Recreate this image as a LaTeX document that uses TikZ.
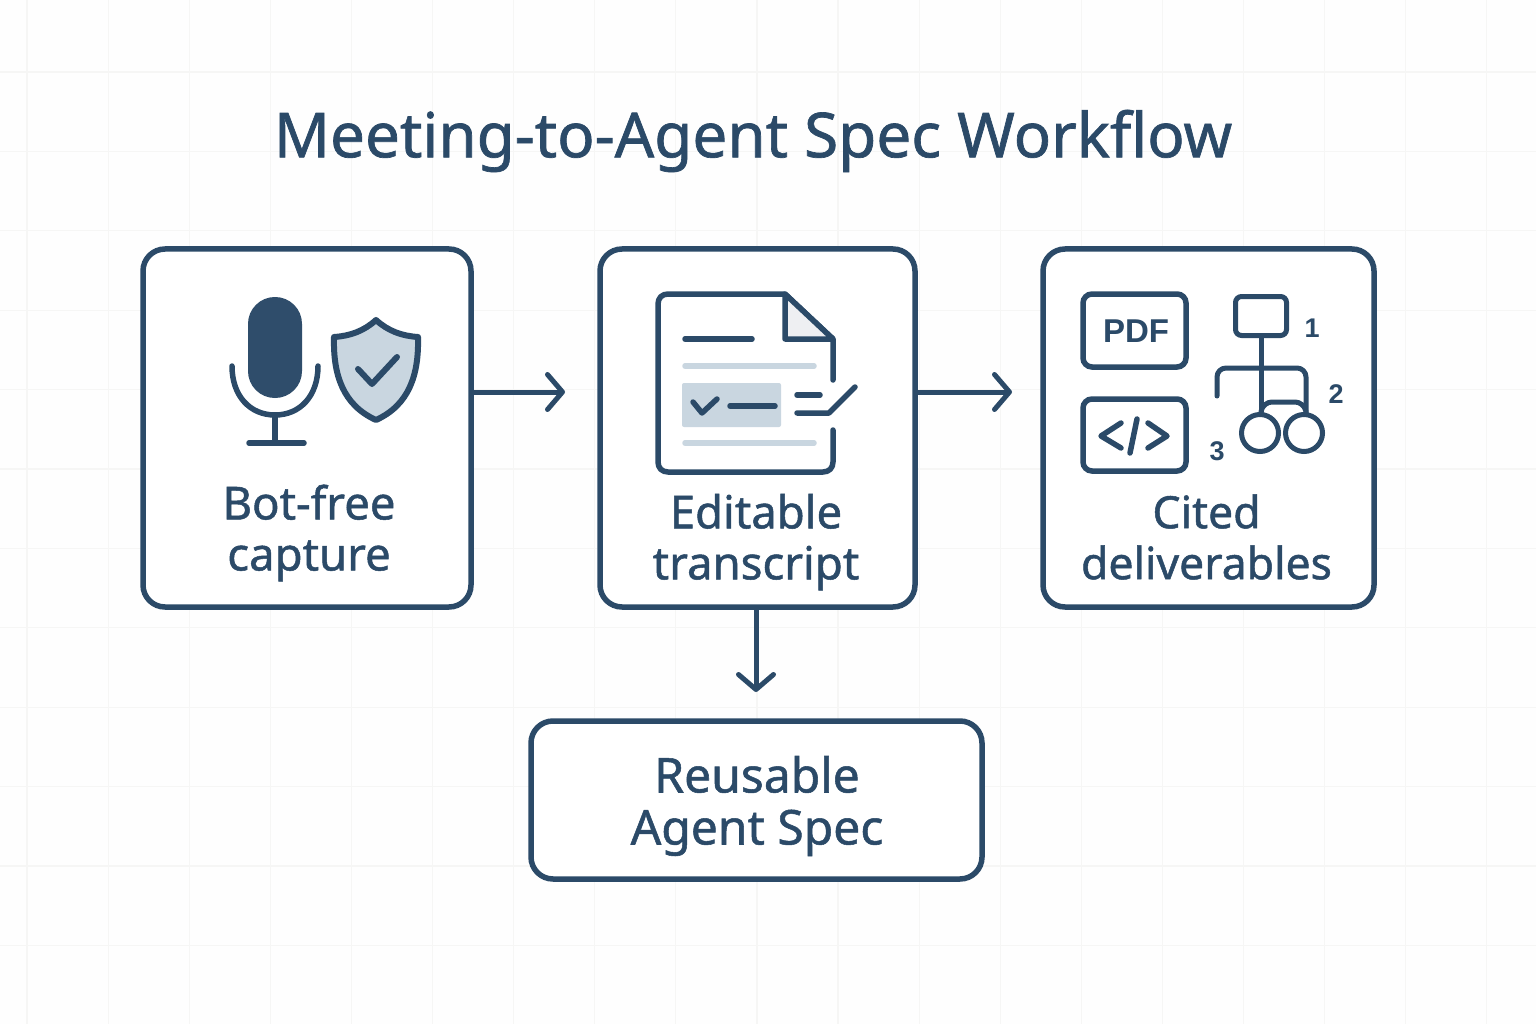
\documentclass[tikz,border=0pt]{standalone}
\usepackage{fontspec}
\setmainfont{Noto Sans}
\newfontfamily\medfont[FakeBold=1.1]{Noto Sans}
\newfontfamily\heavyfont{Liberation Sans}
\usetikzlibrary{arrows.meta}
\definecolor{ink}{HTML}{2B4A68}
\definecolor{inkfill}{HTML}{2F4D6B}
\definecolor{pale}{HTML}{C9D6E0}
\definecolor{foldc}{HTML}{EEEFF2}
\definecolor{gridc}{HTML}{F6F6F5}
\definecolor{paper}{HTML}{FEFEFE}
\tikzset{
  box/.style={draw=ink,line width=5.5pt,rounded corners=22pt,fill=white,inner sep=0pt,outer sep=0pt},
  flow/.style={draw=ink,line width=5pt,-{Straight Barb[length=15pt,width=35pt,line width=5pt,round]}},
  ico/.style={draw=ink,line width=5.5pt,line cap=round,line join=round},
  thin ico/.style={draw=ink,line width=5pt,line cap=round,line join=round},
  paleline/.style={draw=pale,line width=5.5pt,line cap=round},
  lab/.style={text=ink,align=center,font=\medfont\fontsize{45.5}{51}\selectfont,inner sep=0pt},
  wlab/.style={text=ink,align=center,font=\medfont\fontsize{44.5}{51}\selectfont,inner sep=0pt},
  biglab/.style={text=ink,align=center,font=\medfont\fontsize{48}{52}\selectfont,inner sep=0pt},
  num/.style={text=ink,font=\heavyfont\bfseries\fontsize{27}{30}\selectfont,inner sep=0pt}
}
\begin{document}
\begin{tikzpicture}[x=1pt,y=-1pt]
\useasboundingbox (0,0) rectangle (1536,1024);
\fill[paper] (0,0) rectangle (1536,1024);
\foreach \i in {0,...,18}{\draw[gridc,line width=1.2pt] ({27+81.1*\i},0) -- ({27+81.1*\i},1024);}
\foreach \j in {0,...,11}{\draw[gridc,line width=1.2pt] (0,{72+79.4*\j}) -- (1536,{72+79.4*\j});}
\node[text=ink,font=\medfont\fontsize{62}{66}\selectfont,inner sep=0pt] (title) at (753,141) {Meeting-to-Agent Spec Workflow};
\node[box,minimum width=328pt,minimum height=358pt] (capture) at (307,428) {};
\node[box,minimum width=315pt,minimum height=358pt] (transcript) at (757.5,428) {};
\node[box,minimum width=331pt,minimum height=358pt] (deliver) at (1208.5,428) {};
\node[box,minimum width=451pt,minimum height=158pt] (spec) at (756.5,800) {};
\node[lab] (l1) at (309,533) {Bot-free\\capture};
\node[lab] (l2) at (756,542) {Editable\\transcript};
\node[wlab] (l3) at (1206.5,537) {Cited\\deliverables};
\node[biglab] (l4) at (757,806) {Reusable\\Agent Spec};
% connectors
\coordinate (e1) at (565,392);
\coordinate (e2) at (1012,392);
\coordinate (e3) at (756,692);
\draw[flow] (capture.east |- e1) -- (e1);
\draw[flow] (transcript.east |- e2) -- (e2);
\draw[flow] (transcript.south -| e3) -- (e3);
% microphone
\fill[inkfill,rounded corners=26.9pt] (248,297) rectangle (302,398);
\draw[ico] (232,366) .. controls (232,396) and (250,415) .. (275,415) .. controls (300,415) and (318,396) .. (318,366);
\draw[ico] (275,415) -- (275,443);
\draw[ico] (249,443) -- (304,443);
% shield
\draw[ico,line width=6pt,fill=pale] (376,320) .. controls (364,331) and (350,336) .. (334,337)
  .. controls (333,375) and (343,405) .. (376,420)
  .. controls (409,405) and (419,375) .. (418,337)
  .. controls (402,336) and (388,331) .. (376,320) -- cycle;
\draw[ico,line width=6pt] (358,369) -- (372,384) -- (397,357);
% document
\draw[ico,fill=white] (833,380) -- (833,339) -- (785,294) -- (668,294) .. controls (662,294) and (658,298) .. (658,304) -- (658,462) .. controls (658,468) and (662,472) .. (668,472) -- (823,472) .. controls (829,472) and (833,468) .. (833,462) -- (833,430);
\draw[ico,fill=foldc] (785,294) -- (785,339) -- (833,339) -- cycle;
\draw[ico] (685,339) -- (752,339);
\draw[paleline] (685,366) -- (814,366);
\draw[paleline] (685,443) -- (814,443);
\fill[pale,rounded corners=2pt] (682,383) rectangle (781,427);
\draw[ico] (693,402) -- (702,413) -- (717,399);
\draw[ico] (730,406) -- (775,406);
\draw[ico] (797,395) -- (820,395);
\draw[ico] (797,413) -- (829,413) -- (855,387);
% pdf and code
\node[draw=ink,line width=5.5pt,rounded corners=9pt,minimum width=103pt,minimum height=73pt,inner sep=0pt] (pdf) at (1134.5,330.5) {};
\node[text=ink,font=\heavyfont\bfseries\fontsize{33}{35}\selectfont,inner sep=0pt] (pdft) at (1136,331) {PDF};
\node[draw=ink,line width=5.5pt,rounded corners=9pt,minimum width=103pt,minimum height=72pt,inner sep=0pt] (code) at (1134.5,435) {};
\draw[ico] (1121,423) -- (1101,436) -- (1121,448);
\draw[ico] (1137,419) -- (1130,453);
\draw[ico] (1148,423) -- (1167,436) -- (1148,448);
% tree
\node[draw=ink,line width=5pt,rounded corners=6pt,minimum width=51pt,minimum height=39pt,inner sep=0pt] (root) at (1261,316) {};
\node[circle,draw=ink,line width=5pt,minimum size=37pt,inner sep=0pt] (c1) at (1260,433) {};
\node[circle,draw=ink,line width=5pt,minimum size=37pt,inner sep=0pt] (c2) at (1304,433) {};
\draw[thin ico] (root.south) -- (c1.north -| root.south);
\draw[thin ico,rounded corners=9pt] (1217,396) -- (1217,368) -- (1306,368) -- (1306,413);
\draw[thin ico,rounded corners=9pt] (1261,412) -- (1263,402) -- (1304,402) -- (1306,412);
\node[num] (n1) at (1312,328) {1};
\node[num] (n2) at (1336,394) {2};
\node[num] (n3) at (1217,451) {3};
\end{tikzpicture}
\end{document}
